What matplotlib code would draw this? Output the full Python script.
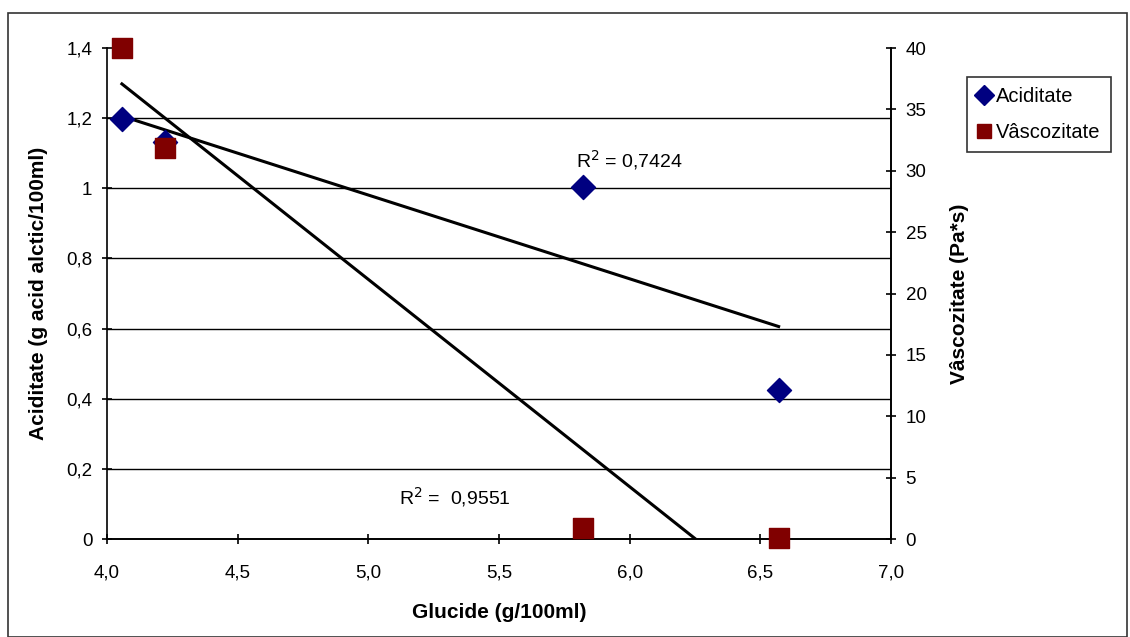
import numpy as np
import matplotlib.pyplot as plt
from matplotlib.patches import Rectangle
from matplotlib.ticker import FuncFormatter, MultipleLocator

plt.rcParams['font.family'] = ['Liberation Sans', 'DejaVu Sans']

# data
glucide = [4.057, 4.22, 5.82, 6.57]
aciditate = [1.197, 1.131, 1.003, 0.426]
vascozitate = [40.0, 31.85, 0.9, 0.05]

# linear trendlines (slope, intercept) as drawn in the chart
acid_trend = (-0.2388, 2.1748)
visc_trend = (-16.89, 105.6)
r2_acid = "0,7424"
r2_visc = "0,9551"

fig = plt.figure(figsize=(11.3, 6.37), dpi=100)
ax = fig.add_axes([0.0947, 0.1538, 0.6938, 0.7708])
ax2 = ax.twinx()

comma = lambda v, p: ('%g' % v).replace('.', ',')
ax.set_xlim(4.0, 7.0)
ax.set_ylim(0, 1.4)
ax2.set_ylim(0, 40)
ax.xaxis.set_major_locator(MultipleLocator(0.5))
ax.yaxis.set_major_locator(MultipleLocator(0.2))
ax2.yaxis.set_major_locator(MultipleLocator(5))
ax.xaxis.set_major_formatter(FuncFormatter(lambda v, p: ('%.1f' % v).replace('.', ',')))
ax.yaxis.set_major_formatter(FuncFormatter(comma))

# horizontal gridlines, none at the top
for t in ax.get_yticks():
    if 0 < t < 1.39:
        ax.axhline(t, color='black', linewidth=1.0, zorder=1)

for a in (ax, ax2):
    for s in a.spines.values():
        s.set_linewidth(1.2)
    a.spines['top'].set_visible(False)
    a.tick_params(direction='inout', length=7, width=1.2, labelsize=13.5, pad=7)
ax2.spines['left'].set_visible(False)
ax.tick_params(axis='x', pad=15)

xs = np.array([min(glucide), max(glucide)])
ax.plot(xs, acid_trend[0] * xs + acid_trend[1], color='black', lw=2.2, zorder=3)
ax2.plot(xs, visc_trend[0] * xs + visc_trend[1], color='black', lw=2.2, zorder=3)

ax.scatter(glucide, aciditate, marker='D', s=150, color='#000080', zorder=4, clip_on=False)
ax2.scatter(glucide, vascozitate, marker='s', s=220, color='#800000', zorder=4, clip_on=False)

ax.text(6.0, 1.082, 'R$^2$ = ' + r2_acid, fontsize=14, ha='center', va='center')
ax.text(5.33, 0.12, 'R$^2$ =  ' + r2_visc, fontsize=14, ha='center', va='center')

ax.set_xlabel('Glucide (g/100ml)', fontsize=15, fontweight='bold', labelpad=15)
ax.set_ylabel('Aciditate (g acid alctic/100ml)', fontsize=15, fontweight='bold', labelpad=13)
ax2.set_ylabel('Vâscozitate (Pa*s)', fontsize=15, fontweight='bold', labelpad=17)

h1 = plt.Line2D([], [], marker='D', ls='', color='#000080', markersize=10)
h2 = plt.Line2D([], [], marker='s', ls='', color='#800000', markersize=10)
leg = fig.legend([h1, h2], ['Aciditate', 'Vâscozitate'], loc='upper left',
                 bbox_to_anchor=(967 / 1130, 1 - 77 / 637), fontsize=14.5,
                 frameon=True, fancybox=False, edgecolor='black', handlelength=0.7,
                 handletextpad=0.25, borderpad=0.5, labelspacing=0.85, borderaxespad=0)
leg.get_frame().set_linewidth(1.2)

fig.patches.append(Rectangle((8 / 1130, 0.0), 1119 / 1130, 1 - 13 / 637,
                             transform=fig.transFigure, fill=False,
                             edgecolor='#333333', linewidth=1.2))

fig.savefig('out.png', dpi=100)
